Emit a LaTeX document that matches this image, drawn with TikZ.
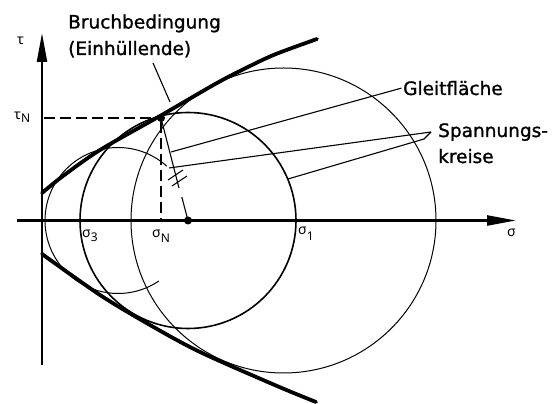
\documentclass[tikz,border=0pt]{standalone}
\usepackage{fontspec}
\setmainfont{DejaVu Sans}[FakeBold=1.2]
\newfontfamily\grk{Noto Sans}
\usetikzlibrary{arrows.meta}
\begin{document}
\begin{tikzpicture}[x=1pt,y=1pt,
  envelope/.style={line width=3.8pt,line cap=round},
  axisline/.style={line width=2.3pt,-{Triangle[length=29pt,width=10pt]}},
  thincirc/.style={line width=1pt},
  failcirc/.style={line width=1.6pt},
  leader/.style={line width=1.1pt},
  helpdash/.style={line width=1.1pt,dash pattern=on 11pt off 5pt},
  lbl/.style={font=\fontsize{18.5}{22}\selectfont,inner sep=0pt,anchor=base west},
  glbl/.style={font=\grk\fontsize{14}{16}\selectfont,inner sep=0pt,anchor=base west},
  dotnode/.style={circle,fill,inner sep=0pt,minimum size=8pt}]
\useasboundingbox (0,0) rectangle (552,404);
\fill[white] (0,0) rectangle (552,404);
% stress circles
\draw[thincirc] (283.5,183.5) circle[radius=152.5pt];
\draw[failcirc] (188,183.5) circle[radius=108pt];
\draw[thincirc] (118,183.5) ++(48:73) arc[start angle=48,end angle=304,radius=73pt];
% envelope
\draw[envelope] plot[smooth] coordinates {(42,211) (63,228) (100,254) (160,288) (217,321) (250,338) (276,350) (317,365)};
\draw[envelope] plot[smooth] coordinates {(42,150) (100,109) (150,79) (200,52) (277,18) (316,2)};
% axes
\coordinate (tb) at (42,39);
\coordinate (tt) at (42,371);
\draw[axisline] (tb) -- (tt);
\coordinate (sl) at (17,183.5);
\coordinate (sr) at (516,183.5);
\draw[axisline] (sl) -- (sr);
% points
\node[dotnode] (tp) at (161,286) {};
\node[dotnode] (mc) at (188,183.5) {};
\coordinate (tnA) at (44,286);
\draw[helpdash] (tnA) -- (tp);
\coordinate (snA) at (161,184.5);
\draw[helpdash] (tp) -- (snA);
% radius with break marks
\coordinate (rA) at (179,216);
\coordinate (rB) at (181.8,207);
\draw[leader] (tp.center) -- (rA);
\draw[leader] (rB) -- (mc.center);
\coordinate (h1a) at (168,224);
\coordinate (h1b) at (183,234);
\coordinate (h2a) at (172,218);
\coordinate (h2b) at (187,228);
\draw[leader] (h1a) -- (h1b);
\draw[leader] (h2a) -- (h2b);
% labels and leaders
\node[lbl] (br1) at (68,375.5) {Bruchbedingung};
\node[lbl] (br2) at (68,349) {(Einhüllende)};
\coordinate (brA) at (153,341);
\coordinate (brB) at (170,302);
\draw[leader] (brA) -- (brB);
\node[lbl] (gl) at (403,309) {Gleitfläche};
\coordinate (glB) at (171,252);
\draw[leader] ([xshift=-1.5pt]gl.west) -- (glB);
\node[lbl] (sp1) at (438,267) {Spannungs-};
\node[lbl] (sp2) at (438,241) {kreise};
\coordinate (spA) at (169,236);
\coordinate (spB) at (288,225);
\coordinate (spK) at (424,265);
\coordinate (spT) at (431,272);
\draw[leader] (spT) -- (spA);
\draw[leader] (spB) -- (spK) -- (spT);
% axis labels
\node[glbl] (ltau) at (17,359) {τ};
\node[glbl] (ltauN) at (14,284) {τ\raisebox{-3pt}{\fontsize{12}{14}\selectfont N}};
\node[glbl] (lsig) at (507,167) {σ};
\node[glbl] (ls3) at (82,166) {σ\raisebox{-4pt}{\fontsize{12}{14}\selectfont 3}};
\node[glbl] (lsN) at (152,166) {σ\raisebox{-5pt}{\fontsize{12}{14}\selectfont N}};
\node[glbl] (ls1) at (298,169) {σ\raisebox{-6pt}{\fontsize{12}{14}\selectfont 1}};
\end{tikzpicture}
\end{document}
